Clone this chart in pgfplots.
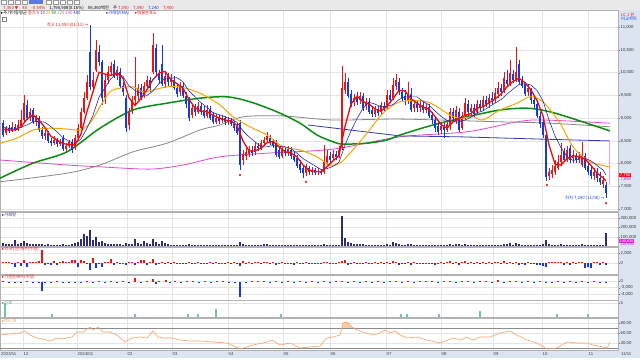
\documentclass[border=0pt]{standalone}
\usepackage{fontspec}
\setmainfont{Liberation Sans}
\newfontfamily\kr{Noto Sans CJK KR}
\newfontfamily\sym{DejaVu Sans}
\usepackage{pgfplots}
\pgfplotsset{compat=1.18}
\usepackage{pgfplotstable}
\newcommand\tf{\fontsize{4.3}{5}\selectfont}
\definecolor{upc}{RGB}{235,20,20}
\definecolor{dnc}{RGB}{20,60,220}
\definecolor{ma5}{RGB}{240,10,10}
\definecolor{ma10}{RGB}{40,45,175}
\definecolor{ma20}{RGB}{245,165,0}
\definecolor{ma60}{RGB}{10,140,20}
\definecolor{ma120}{RGB}{135,135,135}
\definecolor{ma240}{RGB}{225,70,205}
\definecolor{ma480}{RGB}{50,60,170}
\definecolor{volc}{RGB}{45,45,115}
\definecolor{teal2}{RGB}{110,200,165}
\definecolor{rsic}{RGB}{245,160,100}
\definecolor{strip}{RGB}{219,229,241}
\definecolor{gridc}{RGB}{228,228,228}
\definecolor{tool}{RGB}{233,233,233}
\definecolor{mag}{RGB}{230,30,220}

\pgfplotstableread{
x o h l c
6 8670 8830 8630 8780
12 8720 8920 8700 8810
18 8740 8960 8720 8850
21 8830 9180 8780 8960
24 8960 9510 8920 9330
30 9000 9220 8940 9140
36 8920 9070 8830 9000
45 8610 8740 8520 8670
54 8450 8610 8410 8520
60 8430 8540 8390 8480
66 8320 8450 8280 8390
69 8390 8520 8340 8480
75 8340 8630 8300 8560
78 8560 8870 8520 8780
81 8780 9220 8740 9140
84 9140 9580 9090 9440
87 9440 9950 9400 9800
93 9690 10020 9580 9840
96 10060 10720 10020 10500
105 9440 9950 9310 9840
108 9840 10150 9750 10020
111 10020 10240 9930 10150
117 9930 10150 9840 10060
129 8850 9220 8740 9140
132 9180 9490 9090 9400
135 9400 10350 9310 9490
138 9490 9750 9400 9660
144 9490 9800 9440 9710
147 9710 9930 9620 9840
153 10020 10870 9970 10610
165 9750 10020 9660 9930
171 9800 9970 9710 9880
180 9580 9800 9490 9710
192 9070 9310 9000 9220
198 9140 9360 9090 9270
207 9050 9290 9000 9180
216 8920 9090 8870 9000
222 8960 9070 8890 9000
228 8920 9030 8850 8960
243 8080 8300 7970 8210
246 8170 8340 8080 8260
249 8210 8390 8150 8300
255 8260 8480 8190 8390
261 8340 8520 8300 8450
264 8450 8590 8390 8520
267 8520 8700 8450 8610
282 8170 8370 8120 8300
288 8260 8390 8170 8320
306 7790 7990 7730 7900
312 7820 7930 7750 7860
318 7820 7900 7750 7840
324 7820 8410 7770 8040
327 8040 8300 7970 8170
333 8120 8300 8060 8210
339 8170 8390 8120 8300
342 8370 10150 8300 9660
345 9620 9990 9530 9800
354 9360 9530 9270 9440
360 9400 9580 9310 9490
366 9270 9440 9180 9360
375 9090 9270 9030 9180
381 9140 9360 9070 9290
387 9270 9620 9200 9510
393 9440 9880 9400 9730
396 9710 9970 9620 9840
408 9400 9800 9310 9530
414 9220 9400 9140 9310
420 9220 9400 9140 9290
426 9180 9330 9110 9250
441 8740 8920 8650 8830
447 8740 8960 8700 8870
450 8830 9220 8740 9140
456 8960 9270 8870 9180
462 8780 9140 8740 9050
465 9050 9440 8960 9330
471 9140 9310 9050 9220
477 9140 9400 9070 9310
483 9270 9490 9180 9400
489 9310 9530 9220 9440
495 9400 9660 9330 9550
498 9530 9800 9440 9660
504 9620 10020 9550 9880
510 9750 10280 9710 9990
516 9840 10570 9800 10020
528 9580 9750 9490 9660
549 7730 7900 7640 7820
552 7770 7970 7680 7860
555 7820 8080 7750 7950
558 7900 8190 7860 8040
561 8040 8450 7950 8190
567 8080 8390 8040 8300
573 8120 8300 8010 8190
579 8080 8260 8010 8170
582 7970 8480 7930 8170
594 7730 7900 7640 7820
603 7550 7730 7460 7640
}\tabup

\pgfplotstableread{
x o h l c
3 8890 8960 8590 8630
9 8780 8850 8670 8720
15 8810 8870 8720 8740
27 9290 9400 8960 9000
33 9180 9220 8870 8920
39 9000 9050 8700 8740
42 8740 8810 8540 8610
48 8670 8720 8450 8500
51 8500 8560 8390 8450
57 8520 8560 8370 8430
63 8560 8630 8280 8320
72 8480 8540 8230 8300
90 10460 11050 9620 9690
99 10460 10610 10150 10240
102 10240 10280 9290 9440
114 10190 10280 9880 9930
120 10020 10100 9660 9710
123 9710 9800 9490 9580
126 9440 9510 8700 8780
141 9660 9750 9400 9440
150 9840 9910 9580 9660
156 10540 10630 9930 10020
159 9970 10060 9750 9840
162 10190 10610 9710 9750
168 9930 9990 9710 9800
174 9840 9930 9620 9660
177 9660 9750 9470 9530
183 9710 9770 9440 9490
186 9490 9580 9220 9310
189 9400 9470 8940 9000
195 9220 9310 9050 9140
201 9270 9330 9070 9140
204 9180 9270 9000 9050
210 9180 9270 8960 9000
213 9050 9140 8870 8920
219 9000 9070 8870 8940
225 9000 9050 8850 8920
231 8960 9000 8830 8870
234 8870 8940 8720 8780
237 8830 8890 8630 8670
240 8890 8960 7860 7970
252 8300 8390 8170 8230
258 8390 8450 8280 8340
270 8560 8630 8410 8480
273 8480 8540 8340 8410
276 8450 8520 8150 8190
279 8300 8370 8100 8150
285 8300 8370 8170 8230
291 8300 8370 8100 8170
294 8170 8260 8040 8080
297 8120 8190 7900 7950
300 7990 8080 7790 7860
303 7900 7970 7680 7790
309 7900 7950 7750 7820
315 7860 7900 7750 7790
321 7840 7880 7750 7790
330 8170 8260 8010 8080
336 8210 8280 8080 8150
348 9800 9880 9440 9490
351 9530 9620 9250 9310
357 9440 9580 9290 9360
363 9490 9550 9160 9220
369 9360 9440 9090 9140
372 9180 9270 9030 9090
378 9180 9270 9050 9110
384 9270 9360 9160 9220
390 9510 9620 9330 9400
399 9800 9880 9510 9580
402 9580 9660 9360 9440
405 9490 9620 9290 9400
411 9530 9660 9140 9180
417 9310 9400 9140 9220
423 9290 9360 9110 9180
429 9250 9310 9000 9050
432 9070 9140 8870 8960
435 8960 9030 8700 8780
438 8830 8920 8630 8700
444 8830 8890 8560 8740
453 9140 9220 8920 9000
459 9140 9220 8700 8740
468 9310 9400 9050 9140
474 9220 9310 9030 9090
480 9310 9400 9160 9220
486 9400 9490 9250 9310
492 9440 9580 9310 9400
501 9660 9750 9490 9580
507 9840 10060 9710 9750
513 9970 10060 9770 9840
519 10190 10280 9750 9800
522 9840 9930 9660 9710
525 9750 9800 9490 9530
531 9620 9660 9310 9400
534 9400 9490 9220 9310
537 9310 9400 9000 9050
540 9050 9140 8780 8870
543 8920 8960 8560 8630
546 8630 8670 7620 7710
564 8260 8340 8040 8080
570 8340 8410 8010 8080
576 8170 8230 8010 8080
585 8170 8230 7860 7900
588 7950 8010 7750 7820
591 7860 7930 7660 7730
597 7820 7900 7600 7680
600 7680 7820 7530 7600
606 7530 7600 7240 7360
}\tabdn

\pgfplotstableread{
x v
3 30000
6 25000
9 20000
12 22000
15 60000
18 25000
21 30000
24 55000
27 35000
30 20000
33 25000
36 18000
39 22000
42 20000
45 15000
48 18000
51 14000
54 12000
57 15000
60 13000
63 22000
66 15000
69 14000
72 20000
75 30000
78 45000
81 80000
84 130000
87 110000
90 170000
93 70000
96 95000
99 40000
102 55000
105 35000
108 25000
111 20000
114 22000
117 18000
120 20000
123 15000
126 30000
129 20000
132 25000
135 75000
138 30000
141 25000
144 50000
147 30000
150 20000
153 80000
156 45000
159 25000
162 55000
165 30000
168 20000
171 15000
174 15000
177 14000
180 12000
183 12000
186 14000
189 18000
192 12000
195 10000
198 10000
201 9000
204 10000
207 9000
210 10000
213 12000
216 9000
219 8000
222 8000
225 9000
228 8000
231 9000
234 10000
237 12000
240 45000
243 25000
246 15000
249 12000
252 10000
255 12000
258 10000
261 15000
264 18000
267 20000
270 12000
273 10000
276 15000
279 12000
282 10000
285 9000
288 9000
291 10000
294 9000
297 12000
300 15000
303 14000
306 12000
309 9000
312 8000
315 8000
318 7000
321 8000
324 20000
327 15000
330 10000
333 10000
336 9000
339 15000
342 330000
345 90000
348 45000
351 30000
354 20000
357 18000
360 18000
363 20000
366 15000
369 15000
372 12000
375 12000
378 10000
381 14000
384 10000
387 25000
390 15000
393 40000
396 35000
399 20000
402 15000
405 12000
408 25000
411 20000
414 12000
417 10000
420 10000
423 9000
426 9000
429 12000
432 12000
435 15000
438 12000
441 10000
444 12000
447 12000
450 25000
453 15000
456 18000
459 20000
462 15000
465 25000
468 14000
471 10000
474 10000
477 12000
480 10000
483 12000
486 9000
489 10000
492 9000
495 12000
498 15000
501 10000
504 25000
507 18000
510 30000
513 15000
516 35000
519 25000
522 15000
525 15000
528 10000
531 12000
534 10000
537 15000
540 15000
543 20000
546 65000
549 25000
552 15000
555 12000
558 15000
561 25000
564 12000
567 15000
570 12000
573 10000
576 9000
579 9000
582 20000
585 12000
588 10000
591 12000
594 10000
597 12000
600 15000
603 12000
606 140000
}\tabvol

\pgfplotstableread{
x v
3 200
6 150
9 250
12 -100
15 -700
18 200
21 -500
24 700
27 -700
30 300
33 250
36 300
39 350
42 2600
45 -300
48 -250
51 -300
54 500
57 -400
60 150
63 500
66 200
69 300
72 600
75 700
78 -700
81 600
84 400
87 -200
90 -1300
93 1000
96 -900
99 -200
102 -700
105 300
108 200
111 800
114 -300
117 150
120 -200
123 100
126 -300
129 200
132 300
135 -400
138 150
141 600
144 700
147 -400
150 200
153 900
156 -300
159 -200
162 200
165 -150
168 300
171 -200
174 150
177 -150
180 100
183 -200
186 -250
189 150
192 -150
195 100
198 200
201 -150
204 100
207 -100
210 150
213 -200
216 300
219 -100
222 100
225 -150
228 150
231 -100
234 200
237 -150
240 -600
243 400
246 -200
249 200
252 -250
255 150
258 300
261 -150
264 300
267 150
270 -200
273 150
276 -300
279 100
282 150
285 -100
288 100
291 -200
294 -400
297 200
300 -150
303 -250
306 200
309 -100
312 100
315 -150
318 100
321 -100
324 150
327 200
330 -150
333 100
336 -100
339 200
342 400
345 600
348 -300
351 -200
354 200
357 -150
360 100
363 -200
366 150
369 -150
372 -100
375 150
378 -100
381 200
384 -150
387 300
390 -100
393 400
396 200
399 -300
402 -200
405 -150
408 200
411 -300
414 150
417 -100
420 100
423 -150
426 100
429 -200
432 -250
435 -300
438 -200
441 150
444 -200
447 200
450 500
453 -150
456 300
459 -400
462 200
465 400
468 -150
471 150
474 -150
477 200
480 -100
483 200
486 -100
489 150
492 -100
495 200
498 300
501 -150
504 400
507 -200
510 300
513 -150
516 300
519 -400
522 -200
525 -300
528 150
531 -250
534 -200
537 -300
540 -400
543 -500
546 -800
549 300
552 200
555 150
558 200
561 300
564 -300
567 200
570 -400
573 150
576 -200
579 150
582 300
585 -900
588 -700
591 -900
594 300
597 200
600 -300
603 200
606 -400
}\tabfor

\pgfplotstableread{
x v
3 100
9 -150
15 -200
21 -150
27 100
33 -100
39 -300
42 -3100
45 -200
51 -100
57 100
63 -150
69 -300
75 -200
81 -150
87 200
93 -200
99 150
105 -150
111 100
117 -100
123 150
129 -150
135 1200
141 -300
147 200
153 900
156 -900
159 300
166 600
170 -200
175 200
181 -150
187 100
193 150
199 -100
205 100
211 -100
217 150
223 100
229 -100
235 -150
240 -4900
246 -200
252 100
258 150
264 100
270 -100
276 200
282 -150
288 100
294 -100
300 150
306 -100
312 100
318 -100
324 150
330 -150
336 100
342 300
348 -150
354 200
360 -100
366 150
372 -100
378 200
384 -100
390 150
396 200
402 -150
408 100
414 -100
420 150
426 100
432 200
438 -100
444 150
450 200
456 -150
462 100
468 150
474 -100
480 100
486 200
492 -100
498 400
504 -150
510 200
516 150
522 -100
528 250
534 -150
540 100
546 -500
552 -150
558 100
564 -100
570 150
576 -100
582 200
588 -200
594 150
600 -100
606 -200
}\tabins

\pgfplotstableread{
x v
0 56
20 60
25 64
30 56
37 50
43 48
50 44
57 50
62 48
67 50
72 52
77 62
83 62
90 72
93 66
98 72
103 62
110 62
117 56
125 42
132 50
140 52
147 50
153 64
158 52
163 50
172 50
180 46
190 44
200 44
213 42
227 40
240 28
253 36
267 42
272 46
280 36
290 40
300 30
310 32
320 34
327 50
333 52
340 56
343 80
347 82
352 72
357 66
363 62
373 56
380 60
385 66
390 60
395 64
400 56
407 50
417 52
427 46
440 40
453 50
460 46
467 52
473 46
480 52
490 52
500 60
510 64
517 56
527 46
537 40
547 28
557 30
567 42
577 40
587 40
593 36
603 32
607 30
610 42
}\tabrsi

\pgfplotsset{
 panel/.style={
  scale only axis, width=618bp, xmin=0, xmax=618, anchor=south west,
  axis line style={draw=black!30, line width=0.4bp},
  xtick={23,77,127,172,228,283,330,386,441,493,542,588}, xticklabels={},
  xmajorgrids, ymajorgrids, major grid style={draw=gridc, line width=0.5bp},
  ytick pos=right, yticklabel pos=right, major tick length=1.5bp,
  tick align=outside, xtick style={draw=none},
  ytick style={draw=black!55, line width=0.3bp},
  yticklabel style={font=\tf, text=black!80, inner sep=1bp},
  scaled ticks=false, clip=true,
 },
 candle/.style 2 args={draw=none, mark=none, forget plot, error bars/.cd, y dir=both, y explicit, error mark=none,
  error bar style={draw=#1, line width=#2}},
}

\begin{document}
\begin{tikzpicture}[x=1bp,y=1bp]
\path[use as bounding box] (0,0) rectangle (640,360);
\fill[white] (0,0) rectangle (640,360);
\fill[tool] (0,349.5) rectangle (640,360);
\draw[black!35, line width=0.4bp] (0,349.5) -- (640,349.5);
\fill[strip] (618,2) rectangle (640,349.5);
\fill[strip] (0,2) rectangle (618,10);

% ---------- main price panel ----------
\begin{axis}[panel, at={(0bp,149bp)}, height=200.5bp, ymin=6958, ymax=11369,
  ytick={7000,7500,8000,8500,9000,9500,10000,10500,11000},
  yticklabels={{7,000},{7,500},{8,000},{8,500},{9,000},{9,500},{10,000},{10,500},{11,000}}]
\addplot[ma240, line width=0.8bp, smooth] coordinates {(0,8080)(67,7970)(100,7930)(150,7880)(183,7970)(220,8150)(267,8230)(333,8320)(400,8590)(467,8700)(517,8920)(543,8960)(610,8890)};
\addplot[ma120, line width=0.8bp, smooth] coordinates {(0,7600)(67,7790)(100,7970)(133,8260)(167,8450)(200,8740)(220,8850)(243,9030)(283,9050)(333,8960)(400,8980)(500,8920)(550,8890)(610,8810)};
\addplot[ma480, line width=0.8bp] coordinates {(308,8850)(350,8740)(400,8610)(460,8590)(540,8540)(610,8500)};
\addplot[ma60, line width=1.5bp, smooth] coordinates {(0,7680)(33,8010)(67,8260)(100,8780)(133,9180)(167,9330)(200,9440)(227,9470)(250,9360)(277,9140)(300,8890)(317,8630)(333,8480)(343,8430)(367,8450)(387,8520)(400,8630)(433,8850)(467,9030)(500,9180)(527,9220)(550,9140)(577,8960)(610,8720)};
\addplot[mag!45, line width=0.6bp] coordinates {(609,8520)(609,7530)};
\addplot[candle={upc}{0.5bp}]
  table[x=x, y expr={(\thisrow{h}+\thisrow{l})/2}, y error expr={(\thisrow{h}-\thisrow{l})/2}] {\tabup};
\addplot[candle={dnc}{0.5bp}]
  table[x=x, y expr={(\thisrow{h}+\thisrow{l})/2}, y error expr={(\thisrow{h}-\thisrow{l})/2}] {\tabdn};
\addplot[candle={upc}{1.9bp}]
  table[x=x, y expr={(\thisrow{o}+\thisrow{c})/2}, y error expr={abs(\thisrow{c}-\thisrow{o})/2}] {\tabup};
\addplot[candle={dnc}{1.9bp}]
  table[x=x, y expr={(\thisrow{o}+\thisrow{c})/2}, y error expr={abs(\thisrow{c}-\thisrow{o})/2}] {\tabdn};
\addplot[ma20, line width=1bp, smooth] coordinates {(0,8450)(17,8560)(33,8740)(50,8780)(67,8760)(80,8740)(90,8890)(100,9250)(110,9580)(120,9660)(133,9690)(143,9580)(153,9620)(167,9690)(180,9690)(200,9550)(220,9290)(233,9030)(250,8810)(267,8630)(283,8370)(300,8300)(317,8150)(330,7970)(340,8010)(350,8230)(367,8670)(383,9110)(400,9360)(427,9360)(450,9070)(460,9000)(473,9030)(483,8960)(500,9180)(517,9330)(530,9470)(543,9360)(560,8890)(573,8370)(590,8040)(610,7930)};
\addplot[ma10, line width=0.6bp] coordinates {(2,8800)(15,8760)(27,8850)(33,8920)(39,8930)(45,8910)(51,8810)(57,8700)(63,8570)(69,8490)(75,8440)(81,8540)(87,8780)(93,9060)(99,9460)(105,9670)(111,9870)(117,9990)(123,9920)(129,9710)(135,9610)(141,9550)(147,9500)(153,9600)(159,9760)(165,9880)(171,9880)(177,9890)(183,9800)(189,9600)(195,9470)(201,9340)(207,9240)(213,9120)(219,9080)(225,9030)(231,8980)(237,8910)(243,8720)(249,8590)(255,8480)(261,8370)(267,8370)(273,8400)(279,8380)(285,8370)(291,8330)(297,8230)(303,8110)(309,8030)(315,7950)(321,7870)(327,7890)(333,7940)(339,8030)(345,8410)(351,8720)(357,8990)(363,9220)(369,9350)(375,9310)(381,9250)(387,9260)(393,9300)(399,9410)(405,9470)(411,9470)(417,9470)(423,9370)(429,9290)(435,9160)(441,9040)(447,8950)(453,8930)(459,8910)(465,8960)(471,9020)(477,9120)(483,9160)(489,9250)(495,9330)(501,9410)(507,9530)(513,9640)(519,9740)(525,9760)(531,9730)(537,9610)(543,9380)(549,8960)(555,8610)(561,8350)(567,8160)(573,8070)(579,8100)(585,8120)(591,8060)(597,7960)(603,7860)(606,7750)};
\addplot[ma5, line width=1.3bp] coordinates {(2,8760)(9,8740)(15,8740)(21,8810)(27,8980)(33,9070)(39,8960)(45,8790)(51,8600)(57,8520)(63,8440)(69,8420)(75,8410)(81,8650)(87,9150)(93,9580)(99,10010)(105,9970)(111,9940)(117,10000)(123,9880)(129,9450)(135,9280)(141,9430)(147,9630)(153,9850)(159,9990)(165,10030)(171,9840)(177,9760)(183,9660)(189,9410)(195,9230)(201,9150)(207,9150)(213,9060)(219,9010)(225,8960)(231,8940)(237,8840)(243,8500)(249,8280)(255,8280)(261,8340)(267,8460)(273,8490)(279,8370)(285,8260)(291,8230)(297,8150)(303,7970)(309,7860)(315,7830)(321,7820)(327,7930)(333,8060)(339,8180)(345,8820)(351,9310)(357,9480)(363,9370)(369,9310)(375,9200)(381,9160)(387,9260)(393,9430)(399,9610)(405,9600)(411,9430)(417,9330)(423,9240)(429,9200)(435,9040)(441,8860)(447,8780)(453,8920)(459,8990)(465,9060)(471,9100)(477,9220)(483,9250)(489,9340)(495,9420)(501,9530)(507,9690)(513,9810)(519,9880)(525,9780)(531,9620)(537,9390)(543,9050)(549,8410)(555,7990)(561,7970)(567,8110)(573,8170)(579,8160)(585,8100)(591,7960)(597,7790)(603,7690)(606,7620)};
\addplot[only marks, mark=*, mark size=0.9bp, upc] coordinates {(240,7750)(306,7600)(547,7530)(606,7130)};
\node[anchor=east, font=\kr\tf, text=upc, inner sep=0.5bp] at (axis cs:89,11050) {최고 11,050 (01/11) {\sym→}};
\node[anchor=east, font=\kr\tf, text=dnc, inner sep=0.5bp] at (axis cs:605,7240) {최저 7,240 (11/06) {\sym→}};
\end{axis}

% ---------- volume ----------
\begin{axis}[panel, at={(0bp,114bp)}, height=34bp, ymin=0, ymax=370000,
  ytick={100000,200000,300000}, yticklabels={{100,000},{200,000},{300,000}}]
\addplot[ycomb, volc, line width=1.5bp] table[x=x, y=v] {\tabvol};
\end{axis}

% ---------- panel 2 ----------
\begin{axis}[panel, at={(0bp,86bp)}, height=27bp, ymin=-2200, ymax=3200,
  ytick={0,2000}, yticklabels={0,{2,000}}]
\addplot[ycomb, upc, line width=1.5bp, restrict y to domain=0:10000] table[x=x, y=v] {\tabfor};
\addplot[ycomb, dnc, line width=1.5bp, restrict y to domain=-10000:0] table[x=x, y=v] {\tabfor};
\end{axis}

% ---------- panel 3 ----------
\begin{axis}[panel, at={(0bp,60bp)}, height=25bp, ymin=-5957, ymax=2093,
  ytick={-4000,-2000,0}, yticklabels={{-4,000},{-2,000},0}]
\addplot[ycomb, upc, line width=1.5bp, restrict y to domain=0:10000] table[x=x, y=v] {\tabins};
\addplot[ycomb, dnc, line width=1.5bp, restrict y to domain=-10000:0] table[x=x, y=v] {\tabins};
\end{axis}

% ---------- panel 4 ----------
\begin{axis}[panel, at={(0bp,42.5bp)}, height=17bp, ymin=-0.18, ymax=5.9,
  ytick={5}, yticklabels={5}]
\addplot[ycomb, teal2, line width=1.5bp] coordinates {(5,5)(52,1.1)(135,1.1)(188,1.1)(198,1.1)(216,2.8)(281,1.1)(401,1.1)(407,1.1)(439,1.1)(480,2.1)(557,1.1)(588,1.1)};
\end{axis}

% ---------- panel 5 (RSI) ----------
\begin{axis}[panel, at={(0bp,10bp)}, height=31.5bp, ymin=26, ymax=89,
  ytick={40,60,80}, yticklabels={{40.00},{60.00},{80.00}}]
\addplot[fill=rsic!55, draw=none] coordinates {(341.4,70)(343,80)(347,82)(352,72)(352.7,70)};
\addplot[fill=dnc!35, draw=none] coordinates {(238,30)(240,28)(242,30)};
\addplot[fill=dnc!35, draw=none] coordinates {(545.5,30)(547,28)(552,29)(557,30)};
\addplot[black!45, line width=0.6bp] coordinates {(0,70)(618,70)};
\addplot[black!45, line width=0.6bp] coordinates {(0,30)(618,30)};
\addplot[rsic, line width=0.6bp] table[x=x, y=v] {\tabrsi};
\end{axis}

% ---------- right-axis markers ----------
\node[fill=upc, text=white, font=\tf, inner sep=0.6bp, anchor=west] at (619,185) {7,750};
\node[text=mag, font=\tf, inner sep=0.3bp, anchor=west] at (620,181) {7,690};
\node[fill=mag, text=white, font=\fontsize{3.8}{4}\selectfont, inner sep=0.5bp, anchor=west] at (619,119) {140,635};
\node[text=mag!70!blue, font=\fontsize{3.8}{4}\selectfont, inner sep=0.2bp, anchor=west] at (620,115.6) {118,593};

% ---------- panel labels ----------
\node[anchor=west, font=\kr\tf, text=volc, inner sep=0] at (2,145.5) {{\sym▸}거래량};
\node[anchor=west, font=\kr\tf, text=upc, inner sep=0] at (2,110.5) {{\sym▸}외국인순매수(수량)};
\node[anchor=west, font=\kr\tf, text=upc, inner sep=0] at (2,83) {{\sym▸}기관순매수(수량)};
\node[anchor=west, font=\kr\tf, text=teal2!80!black, inner sep=0] at (2,57.5) {{\sym▸}신호};
\node[anchor=west, font=\kr\tf, text=rsic, inner sep=0] at (2,39.5) {{\sym▸}RSI 14};

% ---------- legend row ----------
\node[anchor=west, font=\kr\tf, inner sep=0] at (1,347) {{\sym▸}주가이동평균 \textcolor{ma5}{종가 5} \textcolor{ma10}{10} \textcolor{ma20}{20} \textcolor{ma60}{60} \textcolor{ma120}{120} \textcolor{ma240}{240} \textcolor{ma480}{480}};
\node[anchor=west, font=\kr\tf, text=dnc, inner sep=0] at (106,347) {{\sym▸}거래량(MA)};
\node[anchor=west, font=\kr\tf, text=upc, inner sep=0] at (135,347) {{\sym▸}매물분포도};
\draw[black!50, line width=0.3bp, fill=white] (2,338.5) rectangle (6,342.5);
\node[anchor=west, font=\kr\tf, text=upc, inner sep=0] at (621,345) {LC 1 원};
\node[anchor=west, font=\kr\tf, text=dnc, inner sep=0] at (621,341) {비교차트};

% ---------- toolbar ----------
\foreach \a in {1,8,15,22}{\draw[black!40, fill=white, line width=0.3bp] (\a,355.5) rectangle ++(5.5,4);}
\fill[dnc!70] (29,355.5) rectangle ++(14,4);
\foreach \a in {46,53,60,67,74}{\draw[black!40, fill=white, line width=0.3bp] (\a,355.5) rectangle ++(5.5,4);}
\node[anchor=west, font=\kr\tf, inner sep=0] at (3,352.3) {\textcolor{upc}{7,360 {\sym▼}}\quad\textcolor{upc}{40}\quad\textcolor{upc}{-0.54\%}\quad 1,790,908(0.16\%)\quad 56,360백만\quad 주 \textcolor{upc}{7,390}\quad\textcolor{upc}{7,390}\quad\textcolor{dnc}{7,240}\quad\textcolor{upc}{7,400}};

% ---------- date axis ----------
\foreach \xx/\lab in {1/2023\slash 11,23.5/12,77.5/2024\slash 01,127.5/02,172.5/03,228.5/04,283.5/05,330.5/06,386.5/07,441.5/08,493.5/09,542.5/10,588.5/11,621/11\slash 11}{
  \node[anchor=west, font=\tf, text=black!75, inner sep=0] at (\xx,6) {\lab};}
\end{tikzpicture}
\end{document}
